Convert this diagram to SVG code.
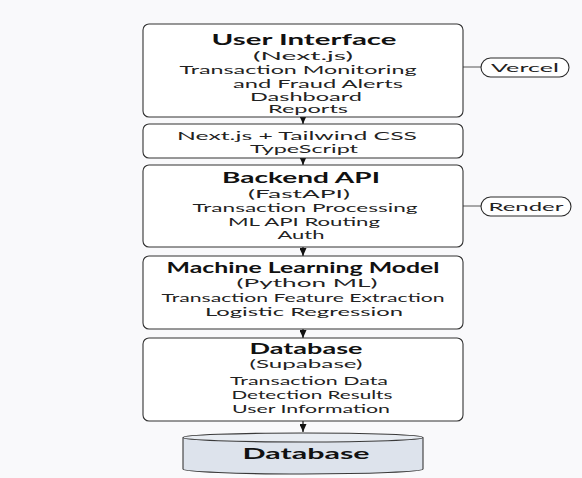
<svg xmlns="http://www.w3.org/2000/svg" width="582" height="478" viewBox="0 0 582 478">
<style>
.box{fill:#ffffff;stroke:#333333;stroke-width:1.1}
.pill{fill:#ffffff;stroke:#2a2a2a;stroke-width:1.1}
.t{font-family:"Lato","Liberation Sans",sans-serif;font-size:11.5px;fill:#222;text-anchor:middle}
.b{font-family:"Lato","Liberation Sans",sans-serif;font-size:15px;font-weight:bold;fill:#111;text-anchor:middle}
.c{stroke:#222;stroke-width:1.3;fill:none}
</style>
<defs>
<marker id="arr" markerUnits="userSpaceOnUse" markerWidth="8" markerHeight="7" refX="8" refY="3.5" orient="auto">
<path d="M0,0 L8,3.5 L0,7 z" fill="#111"/>
</marker>
</defs>
<rect width="582" height="478" fill="#f9f9fb"/>
<g id="connectors">
<line class="c" x1="303" y1="117" x2="303" y2="124" marker-end="url(#arr)"/>
<line class="c" x1="303" y1="158" x2="303" y2="165" marker-end="url(#arr)"/>
<line class="c" x1="303" y1="247" x2="303" y2="256" marker-end="url(#arr)"/>
<line class="c" x1="303" y1="329" x2="303" y2="338" marker-end="url(#arr)"/>
<line class="c" x1="303" y1="421" x2="303" y2="432" marker-end="url(#arr)"/>
<line x1="463" y1="67" x2="481" y2="67" stroke="#555" stroke-width="1"/>
<line x1="463" y1="206" x2="481" y2="206" stroke="#555" stroke-width="1"/>
</g>
<g id="ui">
<rect class="box" x="143" y="24" width="320" height="93" rx="6"/>
<text class="b" x="304" y="45" textLength="185" lengthAdjust="spacingAndGlyphs">User Interface</text>
<text class="t" x="303" y="60" textLength="100" lengthAdjust="spacingAndGlyphs">(Next.js)</text>
<text class="t" x="298" y="74" textLength="237" lengthAdjust="spacingAndGlyphs">Transaction Monitoring</text>
<text class="t" x="318" y="88" textLength="170" lengthAdjust="spacingAndGlyphs">and Fraud Alerts</text>
<text class="t" x="306" y="101" textLength="112" lengthAdjust="spacingAndGlyphs">Dashboard</text>
<text class="t" x="308" y="113" textLength="80" lengthAdjust="spacingAndGlyphs">Reports</text>
</g>
<g id="stack">
<rect class="box" x="143" y="124" width="320" height="34" rx="6"/>
<text class="t" x="297" y="140" textLength="240" lengthAdjust="spacingAndGlyphs">Next.js + Tailwind CSS</text>
<text class="t" x="304" y="153" textLength="108" lengthAdjust="spacingAndGlyphs">TypeScript</text>
</g>
<g id="backend">
<rect class="box" x="143" y="165" width="320" height="82" rx="6"/>
<text class="b" x="301" y="183" textLength="158" lengthAdjust="spacingAndGlyphs">Backend API</text>
<text class="t" x="299" y="198" textLength="102" lengthAdjust="spacingAndGlyphs">(FastAPI)</text>
<text class="t" x="305" y="212" textLength="225" lengthAdjust="spacingAndGlyphs">Transaction Processing</text>
<text class="t" x="304" y="226" textLength="152" lengthAdjust="spacingAndGlyphs">ML API Routing</text>
<text class="t" x="301" y="239" textLength="47" lengthAdjust="spacingAndGlyphs">Auth</text>
</g>
<g id="ml">
<rect class="box" x="143" y="256" width="320" height="73" rx="6"/>
<text class="b" x="303" y="273" textLength="273" lengthAdjust="spacingAndGlyphs">Machine Learning Model</text>
<text class="t" x="307" y="287" textLength="141" lengthAdjust="spacingAndGlyphs">(Python ML)</text>
<text class="t" x="303" y="302" textLength="283" lengthAdjust="spacingAndGlyphs">Transaction Feature Extraction</text>
<text class="t" x="304" y="316" textLength="198" lengthAdjust="spacingAndGlyphs">Logistic Regression</text>
</g>
<g id="database">
<rect class="box" x="143" y="338" width="320" height="83" rx="6"/>
<text class="b" x="306" y="354" textLength="113" lengthAdjust="spacingAndGlyphs">Database</text>
<text class="t" x="306" y="368" textLength="113" lengthAdjust="spacingAndGlyphs">(Supabase)</text>
<text class="t" x="309" y="385" textLength="158" lengthAdjust="spacingAndGlyphs">Transaction Data</text>
<text class="t" x="312" y="399" textLength="161" lengthAdjust="spacingAndGlyphs">Detection Results</text>
<text class="t" x="311" y="413" textLength="158" lengthAdjust="spacingAndGlyphs">User Information</text>
</g>
<g id="db-cylinder">
<path d="M183,437.5 L183,469 A120,5 0 0 0 423,469 L423,437.5" fill="#dde3ec" stroke="#3a3a3a" stroke-width="1.1"/>
<ellipse cx="303" cy="437.5" rx="120" ry="4.5" fill="#e8ecf2" stroke="#3a3a3a" stroke-width="1.1"/>
<text class="b" x="306" y="459" font-size="16.5" textLength="127" lengthAdjust="spacingAndGlyphs">Database</text>
</g>
<g id="vercel">
<rect class="pill" x="481" y="58" width="88" height="19" rx="9.5"/>
<text class="t" x="525" y="72" font-size="12.5" textLength="68" lengthAdjust="spacingAndGlyphs">Vercel</text>
</g>
<g id="render">
<rect class="pill" x="481" y="197" width="90" height="19" rx="9.5"/>
<text class="t" x="526" y="211" font-size="12.5" textLength="75" lengthAdjust="spacingAndGlyphs">Render</text>
</g>
</svg>
